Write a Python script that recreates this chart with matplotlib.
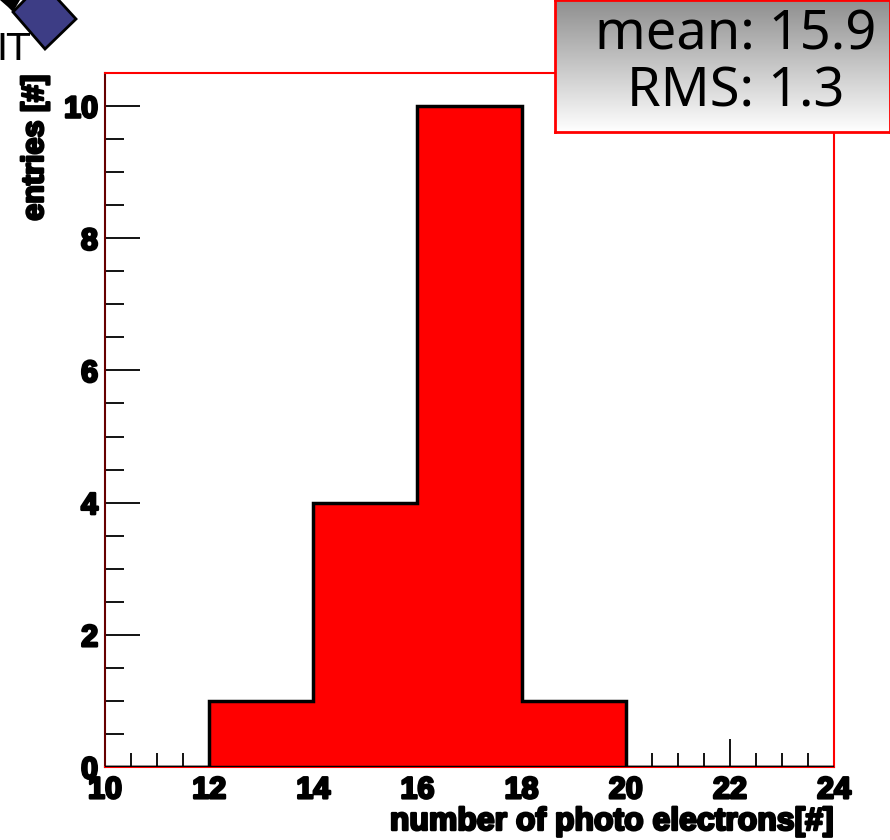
import numpy as np
import matplotlib
matplotlib.use("Agg")
import matplotlib.pyplot as plt
from matplotlib.patches import Polygon
import matplotlib.patheffects as pe

bin_edges = [10, 12, 14, 16, 18, 20, 22, 24]
counts = [0, 1, 4, 10, 1, 0, 0]
x_ticks = [10, 12, 14, 16, 18, 20, 22, 24]
y_ticks = [0, 2, 4, 6, 8, 10]
stats_lines = ["mean: 15.9", "RMS: 1.3"]
xlabel = "number of photo electrons[#]"
ylabel = "entries [#]"

W, H = 890, 840
fig = plt.figure(figsize=(W / 100, H / 100), dpi=100)
fig.patch.set_facecolor("white")

heavy = [pe.withStroke(linewidth=1.8, foreground="black")]

ax = fig.add_axes([105 / W, 1 - 767 / H, (834 - 105) / W, (767 - 73) / H])
ax.set_xlim(10, 24)
ax.set_ylim(0, 10.5)

ax.stairs(counts, bin_edges, fill=True, color="#ff0000", zorder=2)
ax.stairs(counts, bin_edges, fill=False, color="black", linewidth=2.5, baseline=0, zorder=3)
ax.plot([bin_edges[0], bin_edges[-1]], [0, 0], color="black", linewidth=2.5, zorder=3)

for s in ax.spines.values():
    s.set_color("#ff0000")
    s.set_linewidth(1.5)
ax.spines["left"].set_color("#660000")

ax.set_xticks(x_ticks)
ax.set_yticks(y_ticks)
ax.set_xticks(np.arange(10, 24.01, 0.5), minor=True)
ax.set_yticks(np.arange(0, 10.51, 0.5), minor=True)
ax.tick_params(axis="both", which="both", direction="in", color="black", width=1.3,
               top=False, right=False)
ax.tick_params(axis="x", which="major", length=20, pad=6)
ax.tick_params(axis="x", which="minor", length=10)
ax.tick_params(axis="y", which="major", length=25, pad=5)
ax.tick_params(axis="y", which="minor", length=14)

tick_font = dict(family="Liberation Sans", weight="bold", size=22)
ax.set_xticklabels([str(v) for v in x_ticks], **tick_font)
ax.set_yticklabels([str(v) for v in y_ticks], **tick_font)
for t in ax.get_xticklabels() + ax.get_yticklabels():
    t.set_path_effects(heavy)

fig.text(834 / W, 1 - 822 / H, xlabel, ha="right", va="center",
         family="Liberation Sans", weight="bold", size=23, path_effects=heavy)
fig.text(35 / W, 1 - 75 / H, ylabel, ha="center", va="top", rotation=90,
         family="Liberation Sans", weight="bold", size=22, path_effects=heavy)

# stats box with vertical gradient
bx0, by0, bx1, by1 = 555 / W, 1 - 132 / H, 1.0, 1.0
sax = fig.add_axes([bx0, by0, bx1 - bx0, by1 - by0])
grad = np.linspace(0.56, 1.0, 256).reshape(-1, 1)
sax.imshow(np.dstack([grad, grad, grad]), aspect="auto", extent=[0, 1, 0, 1], origin="upper")
sax.set_xlim(0, 1)
sax.set_ylim(0, 1)
sax.set_xticks([])
sax.set_yticks([])
for s in sax.spines.values():
    s.set_color("#ff0000")
    s.set_linewidth(2)
sax.text(0.54, 0.735, stats_lines[0], ha="center", va="center", family="Noto Sans", size=39)
sax.text(0.54, 0.30, stats_lines[1], ha="center", va="center", family="Noto Sans", size=39)

# logo
lax = fig.add_axes([0, 1 - 70 / H, 90 / W, 70 / H])
lax.set_xlim(0, 90)
lax.set_ylim(70, 0)
lax.axis("off")
lax.add_patch(Polygon([[13, 12], [42, -18], [76, 19], [45, 49]], closed=True,
                      facecolor="#3d3d85", edgecolor="black", linewidth=2))
lax.add_patch(Polygon([[0, 0], [20, 0], [13, 12], [8, 7]], closed=True, facecolor="black"))
fig.text(-4 / W, 1 - 50 / H, "IT", ha="left", va="center", family="DejaVu Sans", size=27)

fig.savefig("out.png", dpi=100)
